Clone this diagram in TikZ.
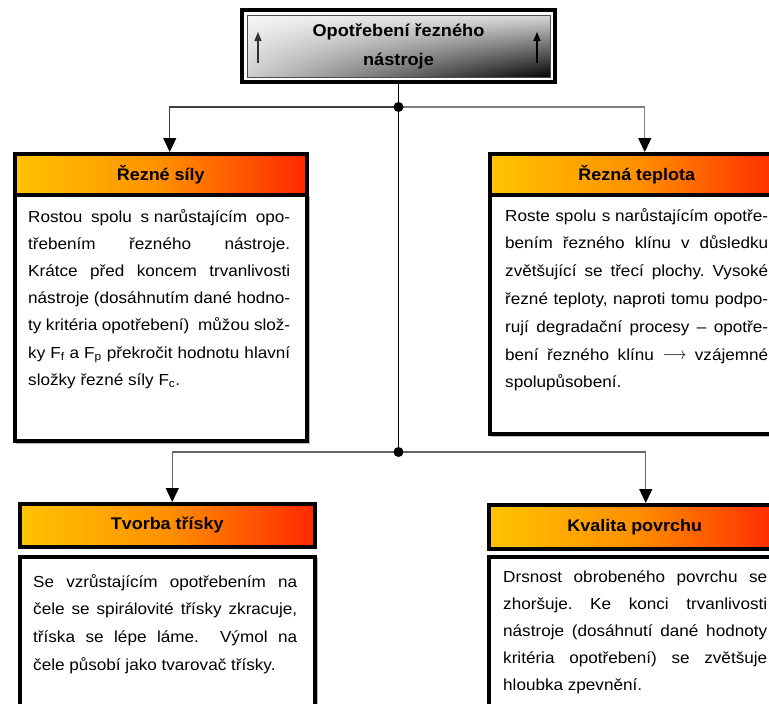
\documentclass[tikz,border=0pt]{standalone}
\usepackage{fontspec}
\setmainfont{Liberation Sans}[FakeStretch=1.07]
\usetikzlibrary{arrows.meta,fadings}
\frenchspacing
\newlength\jw
\newcommand\J[1]{\makebox[\jw][s]{#1}}
\newcommand\longarr{\raisebox{0.5pt}{\scalebox{0.85}[1]{$\longrightarrow$}}}
\definecolor{hy}{HTML}{FFC400}
\definecolor{ho}{HTML}{FF9000}
\definecolor{hr}{HTML}{FF2800}
\begin{document}
\begin{tikzpicture}[x=1pt,y=-1pt,
  hdr/.style={draw=black, line width=3.5pt, left color=hy, right color=hr, middle color=ho,
    anchor=north west, inner sep=0pt,
    font=\fontsize{16.8}{20}\selectfont\bfseries},
  bodybox/.style={draw=black, line width=3.5pt, fill=white, anchor=north west, inner sep=0pt,
    preaction={draw=gray!55, line width=1.5pt, transform canvas={shift={(2pt,-2pt)}}}},
  txt/.style={anchor=base west, inner sep=0pt, font=\fontsize{16}{20}\selectfont},
  conn/.style={draw=black!75, line width=1.4pt},
  tip/.style={-{Triangle[width=13pt,length=14pt,color=black]}},
  smalltip/.style={-{Triangle[width=7pt,length=9pt]}}]
\useasboundingbox (0,0) rectangle (769,704);

% title box with grey gradient: dark towards the lower right, light along the top
\node[draw=black, line width=4pt, fill=white, minimum width=313pt, minimum height=72pt,
  inner sep=0pt, align=center, font=\fontsize{17}{21}\selectfont\bfseries,
  path picture={
    \shade[left color=gray!35, middle color=gray!60, right color=black]
      ([shift={(5pt,-5pt)}]path picture bounding box.north west) rectangle
      ([shift={(-5pt,5pt)}]path picture bounding box.south east);
    \fill[white, opacity=0.85, path fading=south]
      ([shift={(5pt,-5pt)}]path picture bounding box.north west) rectangle
      ([shift={(-5pt,5pt)}]path picture bounding box.south east);
    \draw[gray!60!black, line width=1pt]
      ([shift={(5pt,-5pt)}]path picture bounding box.north west) rectangle
      ([shift={(-5pt,5pt)}]path picture bounding box.south east);}]
  (top) at (398.5,46) {Opotřebení řezného\\[8pt]nástroje};
\draw[smalltip, draw=black!80, line width=1.3pt] ([shift={(18pt,-17pt)}]top.west) -- ++(0,-31);
\draw[smalltip, draw=black, line width=1.3pt] ([shift={(-20pt,-17pt)}]top.east) -- ++(0,-31);

% body boxes
\node[bodybox, minimum width=292pt, minimum height=246pt] (b1) at (13,193) {};
\node[bodybox, minimum width=294pt, minimum height=239pt] (b2) at (488,193) {};
\node[bodybox, minimum width=295pt, minimum height=170pt] (b3) at (18,555) {};
\node[bodybox, minimum width=292pt, minimum height=170pt] (b4) at (487,555) {};

% headers
\node[hdr, minimum width=292pt, minimum height=41pt] (h1) at (13,152) {Řezné síly};
\node[hdr, minimum width=294pt, minimum height=41pt] (h2) at (488,152) {Řezná teplota};
\node[hdr, minimum width=295pt, minimum height=43pt] (h3) at (18,502) {Tvorba třísky};
\node[hdr, minimum width=292pt, minimum height=44pt] (h4) at (487,503) {Kvalita povrchu};

% connectors
\coordinate (j1) at (398.5,107);
\coordinate (j2) at (398.5,452);
\draw[conn, draw=black] (top.south) -- (j2);
\draw[conn, tip] (j1) -| ([xshift=9pt]h1.north);
\draw[conn, draw=black!50, tip] (j1) -| ([xshift=8pt]h2.north);
\draw[conn, draw=black!60, tip] (j2) -| ([xshift=5pt]h3.north);
\draw[conn, draw=black!60, tip] (j2) -| ([xshift=11pt]h4.north);
\fill (j1) circle (5pt);
\fill (j2) circle (5pt);

% texts
\setlength\jw{262pt}
\foreach \t [count=\i from 0] in {
  {\J{Rostou spolu \mbox{s narůstajícím} opo-}},
  {\J{třebením řezného nástroje.}},
  {\J{Krátce před koncem trvanlivosti}},
  {\J{nástroje (dosáhnutím dané hodno-}},
  {\J{ty kritéria opotřebení)\ \ můžou slož-}},
  {\J{ky F\textsubscript{f} a F\textsubscript{p} překročit hodnotu hlavní}},
  {složky řezné síly F\textsubscript{c}.}}
  \node[txt] (ta\i) at (28,{222+27.2*\i}) {\t};

\setlength\jw{263pt}
\foreach \t [count=\i from 0] in {
  {\J{Roste spolu \mbox{s narůstajícím} opotře-}},
  {\J{bením řezného klínu v důsledku}},
  {\J{zvětšující se třecí plochy. Vysoké}},
  {\J{řezné teploty, naproti tomu podpo-}},
  {\J{rují degradační procesy – opotře-}},
  {\J{bení řezného klínu \longarr\ vzájemné}},
  {spolupůsobení.}}
  \node[txt] (tb\i) at (505,{221+27.8*\i}) {\t};

\setlength\jw{264pt}
\foreach \t [count=\i from 0] in {
  {\J{Se vzrůstajícím opotřebením na}},
  {\J{čele se spirálovité třísky zkracuje,}},
  {\J{tříska se lépe láme.\ \ Výmol na}},
  {čele působí jako tvarovač třísky.}}
  \node[txt] (tc\i) at (33,{587+27.7*\i}) {\t};

\foreach \t [count=\i from 0] in {
  {\J{Drsnost obrobeného povrchu se}},
  {\J{zhoršuje. Ke konci trvanlivosti}},
  {\J{nástroje (dosáhnutí dané hodnoty}},
  {\J{kritéria opotřebení) se zvětšuje}},
  {hloubka zpevnění.}}
  \node[txt] (td\i) at (503,{582+27*\i}) {\t};
\end{tikzpicture}
\end{document}
